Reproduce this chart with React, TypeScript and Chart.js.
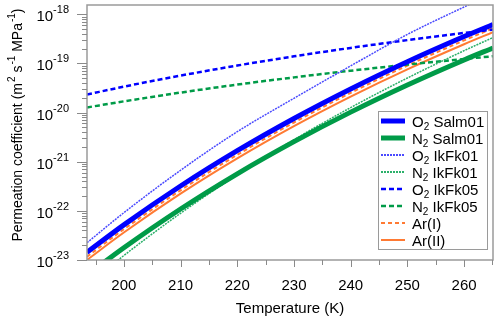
import React, { useEffect, useRef } from "react";
import { Chart, registerables } from "chart.js";

Chart.register(...registerables);

// ---------------- data ----------------
const TEMPS = [193.5, 200, 210, 220, 230, 240, 250, 260, 265.1];

const O2_SALM01 = [1.436e-23, 5.19e-23, 3.2e-22, 1.675e-21, 7.59e-21, 3.03e-20, 1.084e-19, 3.52e-19, 6.18e-19];
const N2_SALM01 = [4.93e-24, 1.774e-23, 1.091e-22, 5.68e-22, 2.56e-21, 1.021e-20, 3.64e-20, 1.178e-19, 2.065e-19];
const O2_IKFK01 = [2.25e-23, 9.16e-23, 6.7e-22, 4.08e-21, 1.95e-20, 8.91e-20, 3.89e-19, 1.406e-18, 2.61e-18];
const N2_IKFK01 = [3.05e-24, 1.233e-23, 8.93e-23, 5.41e-22, 2.8e-21, 1.262e-20, 5.05e-20, 1.816e-19, 3.36e-19];
const O2_IKFK05 = [2.33e-20, 3.37e-20, 5.65e-20, 9.06e-20, 1.396e-19, 2.07e-19, 2.98e-19, 4.17e-19, 4.9e-19];
const N2_IKFK05 = [1.271e-20, 1.694e-20, 2.55e-20, 3.71e-20, 5.2e-20, 7.11e-20, 9.46e-20, 1.233e-19, 1.4e-19];
const AR_I = [1.167e-23, 4.23e-23, 2.62e-22, 1.38e-21, 6.28e-21, 2.52e-20, 9.04e-20, 2.94e-19, 5.19e-19];
const AR_II = [1.005e-23, 3.63e-23, 2.24e-22, 1.172e-21, 5.31e-21, 2.12e-20, 7.59e-20, 2.46e-19, 4.33e-19];

// legend labels: "_" marks a subscript character
const LABELS = ["O_2 Salm01", "N_2 Salm01", "O_2 IkFk01", "N_2 IkFk01", "O_2 IkFk05", "N_2 IkFk05", "Ar(I)", "Ar(II)"];
const SERIES = [O2_SALM01, N2_SALM01, O2_IKFK01, N2_IKFK01, O2_IKFK05, N2_IKFK05, AR_I, AR_II];

const X_MIN = 193.5;
const X_MAX = 265.1;
const Y_MIN = 1e-23;
const Y_MAX = 1.545e-18;
const X_TICKS = [195, 200, 205, 210, 215, 220, 225, 230, 235, 240, 245, 250, 255, 260, 265];
const X_TICK_LABELS = [200, 210, 220, 230, 240, 250, 260];
const Y_DECADES = [-23, -22, -21, -20, -19, -18];
const X_TITLE = "Temperature (K)";

// ---------------- styles ----------------
const BLUE = "#0000ff";
const GREEN = "#009b48";
const LBLUE = "#4a4aff";
const LGREEN = "#2bb06a";
const ORANGE = "#ff7a33";
const FONT = "'Liberation Sans', Arial, Helvetica, sans-serif";

const STYLES = [
  { color: BLUE, width: 5, dash: [] as number[] },
  { color: GREEN, width: 5, dash: [] as number[] },
  { color: LBLUE, width: 1.5, dash: [2, 1] },
  { color: LGREEN, width: 1.5, dash: [2, 1] },
  { color: BLUE, width: 2.5, dash: [5, 3] },
  { color: GREEN, width: 2.5, dash: [5, 3] },
  { color: ORANGE, width: 2, dash: [4, 3] },
  { color: ORANGE, width: 2, dash: [] as number[] },
];

function drawSubLabel(ctx: CanvasRenderingContext2D, label: string, x: number, y: number) {
  let cx = x;
  let i = 0;
  while (i < label.length) {
    if (label[i] === "_" && i + 1 < label.length) {
      ctx.font = `10px ${FONT}`;
      ctx.fillText(label[i + 1], cx, y + 3.5);
      cx += ctx.measureText(label[i + 1]).width;
      i += 2;
    } else {
      let j = i;
      while (j < label.length && label[j] !== "_") j++;
      const seg = label.slice(i, j);
      ctx.font = `15px ${FONT}`;
      ctx.fillText(seg, cx, y);
      cx += ctx.measureText(seg).width;
      i = j;
    }
  }
}

const decorPlugin = {
  id: "decor",
  afterDatasetsDraw(chart: any) {
    const { ctx, chartArea: a, scales } = chart;
    const xs = scales.x;
    const ys = scales.y;
    ctx.save();

    // frame
    ctx.strokeStyle = "#9a9a9a";
    ctx.lineWidth = 1.5;
    ctx.setLineDash([]);
    ctx.strokeRect(a.left, a.top, a.right - a.left, a.bottom - a.top);

    // x ticks
    ctx.strokeStyle = "#8a8a8a";
    ctx.lineWidth = 1;
    for (const t of X_TICKS) {
      const px = Math.round(xs.getPixelForValue(t)) + 0.5;
      const len = t % 10 === 0 ? 7 : 5;
      ctx.beginPath();
      ctx.moveTo(px, a.bottom);
      ctx.lineTo(px, a.bottom + len);
      ctx.stroke();
    }
    ctx.fillStyle = "#000";
    ctx.font = `15px ${FONT}`;
    ctx.textAlign = "center";
    ctx.textBaseline = "alphabetic";
    for (const t of X_TICK_LABELS) {
      ctx.fillText(String(t), xs.getPixelForValue(t), a.bottom + 30);
    }
    ctx.fillText(X_TITLE, (a.left + a.right) / 2, a.bottom + 53);

    // y ticks (log minor ticks)
    for (const d of Y_DECADES) {
      for (let m = 1; m <= 9; m++) {
        const v = m * Math.pow(10, d);
        if (v > Y_MAX * 1.0001) break;
        const py = Math.round(ys.getPixelForValue(v)) + 0.5;
        const len = m === 1 ? 10 : 5;
        ctx.beginPath();
        ctx.moveTo(a.left - len, py);
        ctx.lineTo(a.left, py);
        ctx.stroke();
      }
    }
    // y labels 10^d
    ctx.textAlign = "right";
    for (const d of Y_DECADES) {
      const py = ys.getPixelForValue(Math.pow(10, d));
      const exp = String(d);
      ctx.font = `11px ${FONT}`;
      const ew = ctx.measureText(exp).width;
      const right = a.left - 18;
      ctx.fillText(exp, right, py - 1);
      ctx.font = `15px ${FONT}`;
      ctx.fillText("10", right - ew, py + 7);
    }

    // y title with superscripts
    const parts: [string, boolean][] = [
      ["Permeation coefficient (m", false],
      ["2", true],
      [" s", false],
      ["-1", true],
      [" MPa", false],
      ["-1", true],
      [")", false],
    ];
    ctx.textAlign = "left";
    let total = 0;
    for (const [s, sup] of parts) {
      ctx.font = sup ? `10px ${FONT}` : `14px ${FONT}`;
      total += ctx.measureText(s).width + (sup ? 1 : 0);
    }
    ctx.save();
    ctx.translate(22, 125);
    ctx.rotate(-Math.PI / 2);
    let cx = -total / 2;
    for (const [s, sup] of parts) {
      ctx.font = sup ? `10px ${FONT}` : `14px ${FONT}`;
      if (sup) {
        ctx.fillText(s, cx + 1, -7);
        cx += ctx.measureText(s).width + 1;
      } else {
        ctx.fillText(s, cx, 0);
        cx += ctx.measureText(s).width;
      }
    }
    ctx.restore();

    // legend
    const lx = 378.5;
    const ly = 111.5;
    const lw = 109;
    const lh = 138;
    ctx.fillStyle = "#fff";
    ctx.fillRect(lx, ly, lw, lh);
    ctx.strokeStyle = "#9a9a9a";
    ctx.lineWidth = 1;
    ctx.strokeRect(lx, ly, lw, lh);
    chart.data.datasets.forEach((ds: any, i: number) => {
      const cy = Math.round(120.7 + i * 17.1);
      ctx.strokeStyle = ds.borderColor;
      ctx.lineWidth = ds.borderWidth < 2 ? 2 : ds.borderWidth;
      ctx.setLineDash(ds.borderDash || []);
      ctx.beginPath();
      ctx.moveTo(381, cy);
      ctx.lineTo(405, cy);
      ctx.stroke();
      ctx.setLineDash([]);
      ctx.fillStyle = "#000";
      ctx.textAlign = "left";
      drawSubLabel(ctx, ds.label, 412, cy + 5.5);
    });

    ctx.restore();
  },
};

export default function App() {
  const ref = useRef<HTMLCanvasElement | null>(null);
  useEffect(() => {
    if (!ref.current) return;
    const chart = new Chart(ref.current, {
      type: "line",
      data: {
        datasets: SERIES.map((vals, i) => ({
          label: LABELS[i],
          data: TEMPS.map((t, k) => ({ x: t, y: vals[k] })),
          borderColor: STYLES[i].color,
          backgroundColor: STYLES[i].color,
          borderWidth: STYLES[i].width,
          borderDash: STYLES[i].dash,
          pointRadius: 0,
          fill: false,
          cubicInterpolationMode: "monotone" as const,
          clip: 0,
          order: i,
        })),
      },
      options: {
        responsive: false,
        animation: false,
        devicePixelRatio: 1,
        layout: { padding: { left: 87, top: 5, right: 7, bottom: 60 } },
        plugins: { legend: { display: false }, tooltip: { enabled: false } },
        scales: {
          x: { type: "linear", min: X_MIN, max: X_MAX, display: false },
          y: { type: "logarithmic", min: Y_MIN, max: Y_MAX, display: false },
        },
      },
      plugins: [decorPlugin],
    });
    return () => chart.destroy();
  }, []);
  return (
    <div style={{ position: "absolute", left: 0, top: 0, width: 500, height: 320, background: "#fff" }}>
      <canvas ref={ref} width={500} height={320} style={{ display: "block", width: 500, height: 320 }} />
    </div>
  );
}
